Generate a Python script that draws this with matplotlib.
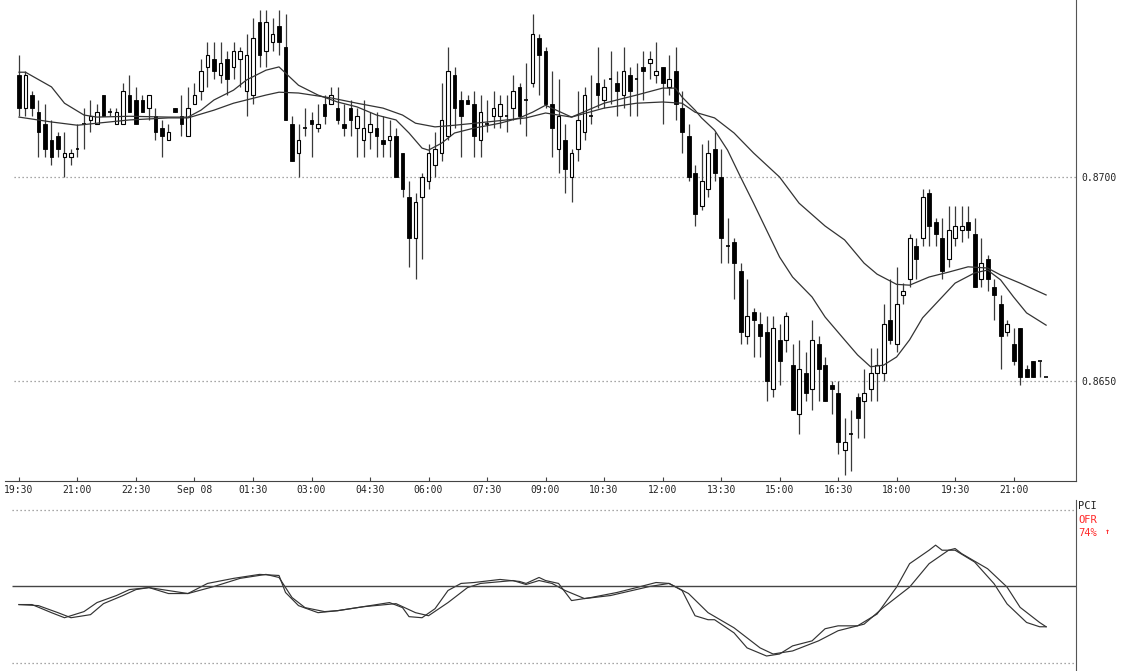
"""10-minute candlestick chart with two moving averages and a PCI oscillator panel."""
import numpy as np
import pandas as pd
import matplotlib
matplotlib.use("Agg")
import matplotlib.pyplot as plt

# OHLC per 10-minute bar, starting 19:30
opens = [.8725, .8717, .8720, .8716, .8713, .8709, .8710, .8705, .8705, .8707,
         .8713, .8714, .8713, .8720, .8716, .8713, .8713, .8720, .8719, .8719,
         .8717, .8715, .8712, .8709, .8717, .8715, .8710, .8718, .8721, .8727,
         .8729, .8725, .8729, .8727, .8729, .8721, .8720, .8738, .8731, .8733,
         .8737, .8732, .8713, .8706, .8712, .8714, .8712, .8718, .8718, .8717,
         .8713, .8717, .8712, .8709, .8711, .8712, .8709, .8709, .8710, .8706,
         .8695, .8685, .8695, .8699, .8703, .8706, .8710, .8725, .8719, .8719,
         .8718, .8709, .8713, .8715, .8715, .8715, .8717, .8722, .8719, .8723,
         .8734, .8731, .8718, .8707, .8709, .8700, .8707, .8711, .8715, .8723,
         .8719, .8724, .8723, .8720, .8725, .8724, .8727, .8728, .8725, .8727,
         .8722, .8726, .8717, .8710, .8701, .8693, .8697, .8707, .8700, .8683,
         .8684, .8677, .8661, .8667, .8664, .8662, .8648, .8660, .8660, .8654,
         .8642, .8652, .8648, .8659, .8654, .8649, .8647, .8633, .8637, .8646,
         .8645, .8648, .8652, .8652, .8665, .8659, .8671, .8675, .8683, .8685,
         .8696, .8689, .8685, .8680, .8685, .8687, .8689, .8686, .8675, .8680,
         .8673, .8669, .8662, .8659, .8663, .8653, .8655, .8655, .8651]
highs = [.8730, .8726, .8721, .8719, .8718, .8714, .8711, .8711, .8707, .8713,
         .8717, .8719, .8718, .8720, .8717, .8717, .8723, .8725, .8722, .8720,
         .8720, .8717, .8714, .8713, .8717, .8720, .8722, .8723, .8729, .8733,
         .8733, .8733, .8731, .8733, .8732, .8735, .8739, .8741, .8741, .8739,
         .8741, .8740, .8715, .8713, .8717, .8716, .8718, .8720, .8722, .8722,
         .8718, .8719, .8717, .8719, .8716, .8716, .8715, .8714, .8712, .8706,
         .8699, .8696, .8701, .8708, .8711, .8723, .8732, .8727, .8721, .8720,
         .8721, .8720, .8719, .8721, .8720, .8720, .8725, .8723, .8728, .8740,
         .8735, .8732, .8726, .8724, .8713, .8707, .8721, .8722, .8725, .8732,
         .8724, .8731, .8726, .8732, .8727, .8728, .8731, .8731, .8733, .8727,
         .8730, .8732, .8721, .8713, .8703, .8708, .8709, .8711, .8707, .8690,
         .8685, .8679, .8675, .8668, .8667, .8666, .8666, .8664, .8667, .8659,
         .8660, .8657, .8665, .8661, .8656, .8650, .8650, .8641, .8643, .8647,
         .8653, .8658, .8658, .8669, .8675, .8678, .8674, .8686, .8685, .8697,
         .8697, .8690, .8690, .8693, .8693, .8693, .8693, .8690, .8685, .8681,
         .8675, .8671, .8665, .8663, .8663, .8654, .8655, .8655, .8651]
lows = [.8715, .8715, .8715, .8705, .8705, .8703, .8705, .8700, .8703, .8705,
        .8707, .8711, .8713, .8715, .8715, .8713, .8713, .8716, .8713, .8716,
        .8714, .8709, .8705, .8709, .8716, .8710, .8710, .8718, .8719, .8722,
        .8724, .8723, .8720, .8724, .8722, .8715, .8718, .8727, .8727, .8731,
        .8730, .8714, .8704, .8700, .8710, .8705, .8711, .8713, .8718, .8713,
        .8710, .8710, .8705, .8705, .8707, .8705, .8705, .8705, .8700, .8695,
        .8678, .8675, .8680, .8697, .8700, .8704, .8709, .8712, .8705, .8718,
        .8705, .8705, .8711, .8712, .8712, .8711, .8714, .8713, .8710, .8722,
        .8720, .8717, .8705, .8701, .8696, .8694, .8704, .8709, .8713, .8717,
        .8717, .8718, .8715, .8717, .8715, .8715, .8719, .8724, .8723, .8713,
        .8720, .8714, .8706, .8699, .8688, .8692, .8695, .8699, .8679, .8679,
        .8670, .8659, .8659, .8656, .8656, .8645, .8646, .8649, .8657, .8643,
        .8637, .8645, .8643, .8645, .8645, .8642, .8632, .8627, .8628, .8636,
        .8636, .8645, .8645, .8650, .8659, .8657, .8669, .8673, .8675, .8683,
        .8683, .8683, .8675, .8678, .8683, .8684, .8685, .8673, .8673, .8672,
        .8665, .8653, .8661, .8654, .8649, .8651, .8651, .8651, .8651]
closes = [.8717, .8725, .8717, .8711, .8707, .8705, .8707, .8706, .8706, .8707,
          .8713, .8715, .8716, .8715, .8716, .8716, .8721, .8716, .8713, .8716,
          .8720, .8711, .8710, .8711, .8716, .8713, .8717, .8720, .8726, .8730,
          .8726, .8728, .8724, .8731, .8731, .8730, .8734, .8730, .8738, .8735,
          .8733, .8714, .8704, .8709, .8712, .8713, .8713, .8715, .8720, .8714,
          .8712, .8714, .8715, .8712, .8713, .8710, .8708, .8710, .8700, .8697,
          .8685, .8694, .8700, .8706, .8707, .8714, .8726, .8717, .8715, .8718,
          .8710, .8716, .8713, .8717, .8718, .8715, .8721, .8715, .8719, .8735,
          .8730, .8718, .8712, .8715, .8702, .8706, .8714, .8720, .8715, .8720,
          .8722, .8724, .8721, .8726, .8721, .8724, .8726, .8729, .8726, .8723,
          .8724, .8718, .8711, .8700, .8691, .8699, .8706, .8701, .8685, .8683,
          .8679, .8662, .8666, .8665, .8661, .8650, .8663, .8655, .8666, .8643,
          .8653, .8647, .8660, .8653, .8645, .8648, .8635, .8635, .8637, .8641,
          .8647, .8652, .8654, .8664, .8660, .8669, .8672, .8685, .8680, .8695,
          .8688, .8686, .8677, .8687, .8688, .8688, .8687, .8673, .8679, .8675,
          .8671, .8661, .8664, .8655, .8651, .8651, .8651, .8655, .8651]

# moving averages, read at bar numbers
fast_bar = [0, 1, 5, 7, 10, 12, 17, 23, 26, 28, 30, 33, 35, 38, 40, 42, 43, 46, 49, 52,
            55, 58, 60, 62, 63, 65, 67, 70, 74, 77, 79, 81, 85, 90, 95, 99, 101, 102, 104, 105,
            107, 109, 111, 113, 115, 117, 119, 122, 124, 127, 129, 131, 133, 135, 137, 139, 142, 144, 147, 149,
            151, 153, 155, 158]
fast_val = [.87257, .87257, .87221, .87181, .87152, .87147, .87149, .87147, .87147, .87164,
            .87189, .87213, .87238, .87262, .87270, .87240, .87225, .87201, .87184, .87172,
            .87152, .87140, .87108, .87071, .87066, .87083, .87108, .87120, .87132, .87145,
            .87159, .87176, .87147, .87181, .87201, .87218, .87218, .87196, .87164, .87145,
            .87115, .87066, .87000, .86936, .86870, .86804, .86755, .86706, .86657, .86601,
            .86564, .86535, .86539, .86559, .86601, .86655, .86706, .86740, .86765, .86772,
            .86748, .86706, .86667, .86637]
slow_bar = [0, 5, 9, 12, 17, 23, 26, 30, 33, 35, 38, 40, 43, 48, 52, 56, 59, 61, 64, 67,
            72, 75, 78, 81, 85, 90, 95, 99, 102, 104, 107, 110, 113, 117, 120, 124, 127, 130, 132, 135,
            137, 140, 143, 146, 149, 151, 154, 158]
slow_val = [.87147, .87135, .87127, .87132, .87140, .87145, .87145, .87164, .87181, .87189,
            .87201, .87208, .87206, .87194, .87181, .87169, .87152, .87132, .87123, .87127,
            .87135, .87140, .87145, .87157, .87147, .87169, .87181, .87184, .87181, .87159,
            .87145, .87108, .87059, .87000, .86936, .86880, .86846, .86789, .86762, .86737,
            .86735, .86755, .86767, .86780, .86777, .86760, .86740, .86711]

# PCI oscillator and its signal line
pci_bar = [0, 2, 5, 7, 10, 12, 15, 17, 20, 23, 26, 29, 33, 37, 40, 41, 43, 46, 49, 54,
           57, 59, 60, 62, 64, 66, 68, 70, 74, 77, 78, 80, 81, 83, 85, 88, 92, 95, 98, 100,
           102, 104, 106, 107, 110, 112, 115, 117, 119, 122, 124, 126, 129, 132, 135, 137, 140, 141, 142, 144,
           147, 150, 152, 155, 157, 158]
pci_val = [38.2, 38.2, 32.9, 29.6, 33.6, 39.5, 44.1, 48.0, 49.3, 45.4,
           45.4, 52.0, 55.3, 57.9, 57.2, 46.1, 37.5, 32.9, 34.2, 37.5,
           39.5, 36.2, 30.3, 29.6, 35.5, 47.4, 52.0, 52.6, 54.6, 53.3,
           52.0, 55.9, 53.9, 52.0, 40.8, 42.8, 46.1, 49.3, 52.6, 52.0,
           47.4, 30.9, 28.3, 28.3, 19.7, 9.9, 4.6, 5.9, 11.2, 14.5,
           22.4, 24.3, 24.3, 32.0, 49.6, 64.9, 73.7, 77.0, 73.7, 73.7,
           66.0, 51.8, 38.6, 26.5, 23.7, 23.7]
sig_bar = [0, 3, 6, 8, 11, 13, 16, 18, 20, 24, 26, 30, 34, 38, 40, 42, 44, 47, 49, 53,
           58, 61, 63, 66, 69, 71, 76, 78, 80, 82, 84, 87, 91, 97, 100, 103, 106, 110, 114, 116,
           119, 123, 126, 130, 133, 137, 140, 143, 144, 145, 149, 152, 154, 157, 158]
sig_val = [38.2, 37.5, 32.9, 29.6, 31.6, 38.8, 44.1, 48.0, 49.3, 46.7,
           45.4, 50.0, 55.3, 57.9, 55.9, 42.8, 36.2, 33.6, 34.2, 36.8,
           38.8, 32.9, 30.9, 39.5, 49.3, 52.0, 53.9, 51.3, 53.9, 52.0,
           47.4, 42.1, 44.1, 50.0, 52.0, 45.4, 32.9, 23.0, 9.9, 5.9,
           7.9, 14.5, 21.1, 25.4, 36.4, 49.6, 64.9, 73.7, 74.8, 71.5,
           61.6, 49.6, 36.4, 26.5, 23.7]

price_levels = [0.8650, 0.8700]
price_labels = ["0.8650", "0.8700"]
last_reading = "74%"

plt.rcParams["font.family"] = ["DejaVu Sans Mono"]

o = np.array(opens); h = np.array(highs); l = np.array(lows); c = np.array(closes)
bars = np.arange(len(o))
times = pd.date_range("2005-09-07 19:30", periods=len(o), freq="10min")

W, H = 1126, 671
fig = plt.figure(figsize=(W / 100, H / 100), dpi=100)
left, right = 5 / W, 1076 / W
ax = fig.add_axes([left, 1 - 481 / H, right - left, 481 / H])
ax2 = fig.add_axes([left, 0, right - left, 171 / H])
xlim = (-2.15, 162.6)

# candles
ax.vlines(bars, l, h, color="#3a3a3a", lw=0.9, zorder=1)
up = c > o
down = c < o
flat = c == o
bw = 0.6
ax.bar(bars[down], (o - c)[down], bottom=c[down], width=bw, color="black",
       edgecolor="black", lw=0.6, zorder=2)
ax.bar(bars[up], (c - o)[up], bottom=o[up], width=bw, color="white",
       edgecolor="black", lw=0.8, zorder=2)
ax.hlines(o[flat], bars[flat] - bw / 2, bars[flat] + bw / 2, color="black", lw=1.2, zorder=2)

ax.plot(fast_bar, fast_val, color="#333333", lw=0.9, zorder=3)
ax.plot(slow_bar, slow_val, color="#333333", lw=0.9, zorder=3)

ax.hlines(price_levels, -0.8, xlim[1], color="#8a8a8a", lw=0.9, ls=(0, (1, 2.2)), zorder=0)
ax.set_xlim(*xlim)
ax.set_ylim(0.86255, 0.87434)

for s in ["top", "left"]:
    ax.spines[s].set_visible(False)
ax.spines["right"].set_color("#555555")
ax.spines["bottom"].set_color("#444444")
ax.yaxis.tick_right()
ax.set_yticks(price_levels)
ax.set_yticklabels(price_labels)
ax.tick_params(axis="y", length=0, pad=4, labelsize=7, labelcolor="#222222")

tick_idx = bars[::9]
tick_lab = [times[i].strftime("%b %d") if times[i].hour == 0 and times[i].minute == 0
            else times[i].strftime("%H:%M") for i in tick_idx]
ax.set_xticks(tick_idx)
ax.set_xticklabels(tick_lab)
ax.tick_params(axis="x", direction="in", length=3, width=0.8, pad=3, labelsize=7,
               labelcolor="#222222", color="#444444")

# oscillator panel
ax2.plot(pci_bar, pci_val, color="#333333", lw=0.85)
ax2.plot(sig_bar, sig_val, color="#333333", lw=0.85)
ax2.hlines(50, -1.0, xlim[1], color="#444444", lw=1.0)
ax2.hlines([0, 100], -1.0, xlim[1], color="#8a8a8a", lw=0.9, ls=(0, (1, 2.2)))
ax2.set_xlim(*xlim)
ax2.set_ylim(-5.2, 106.5)
for s in ["top", "left", "bottom"]:
    ax2.spines[s].set_visible(False)
ax2.spines["right"].set_color("#555555")
ax2.set_xticks([])
ax2.set_yticks([])

fig.text(1078 / W, 1 - 506 / H, "PCI", fontsize=7.5, color="#222222", va="center")
fig.text(1078 / W, 1 - 520 / H, "OFR", fontsize=7.5, color="#ff2a2a", va="center")
fig.text(1078 / W, 1 - 533 / H, last_reading, fontsize=7.5, color="#ff2a2a", va="center")
fig.text(1107 / W, 1 - 532 / H, "\u2191", fontsize=6, color="#ff2a2a", va="center",
         ha="center", weight="bold")

fig.savefig("out.png", dpi=100)
plt.close(fig)
